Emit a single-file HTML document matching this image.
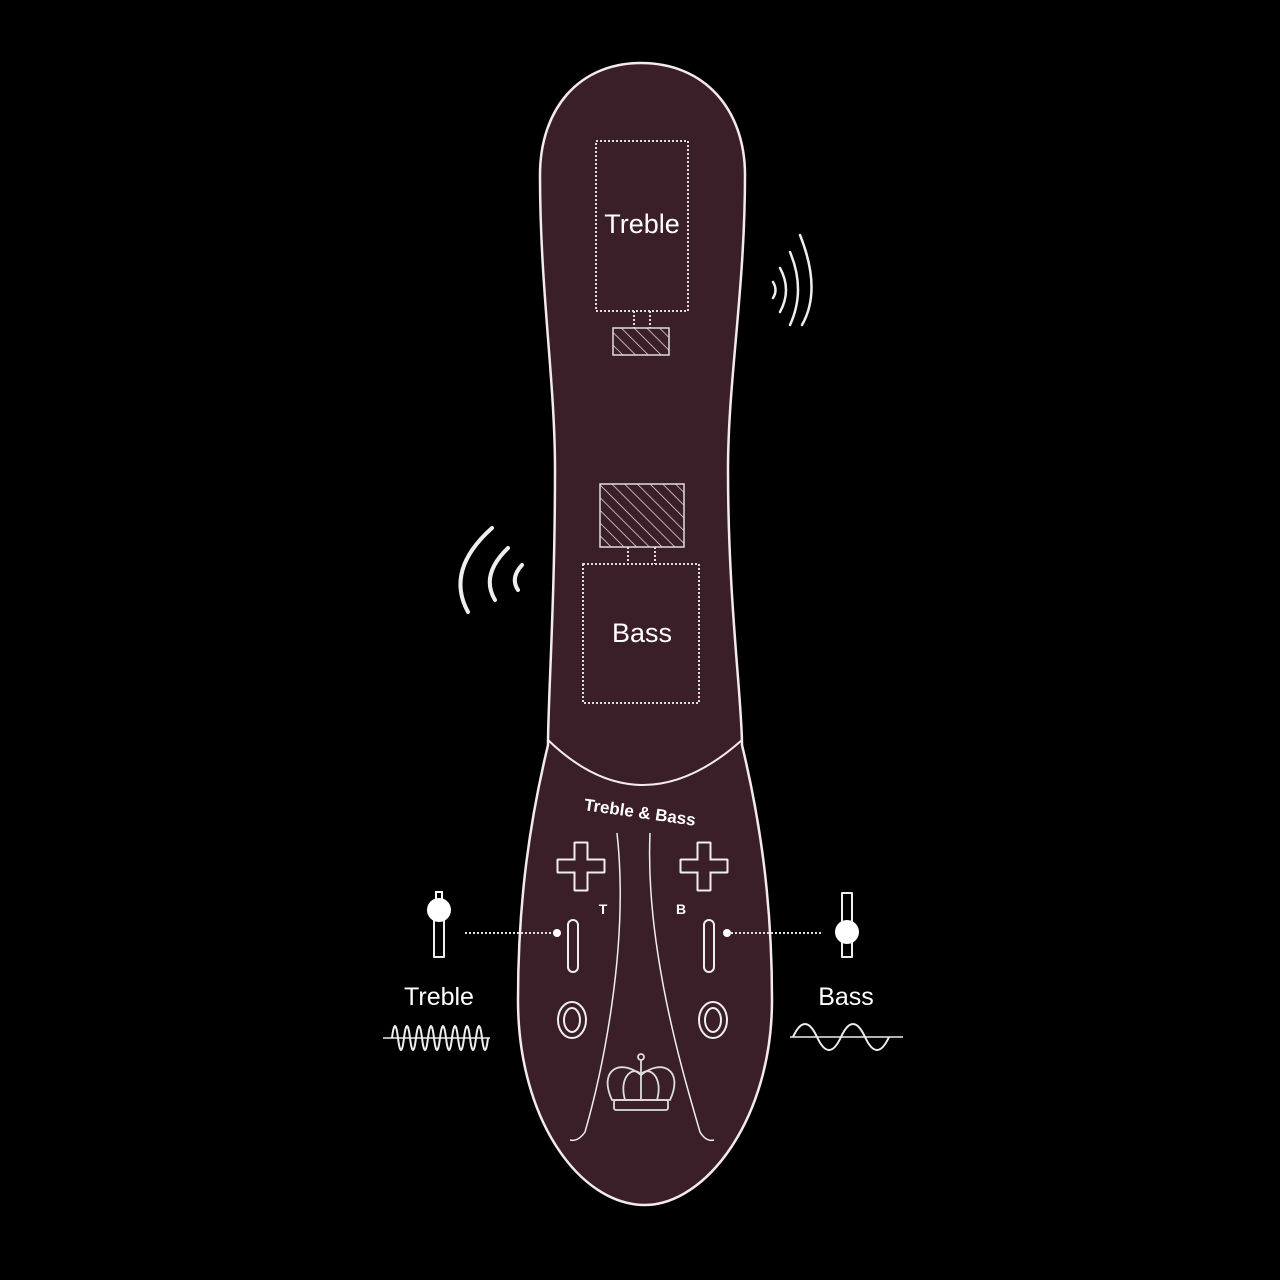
<!DOCTYPE html>
<html><head><meta charset="utf-8"><style>
html,body{margin:0;padding:0;background:#000;}
svg{display:block}
text{font-family:"Liberation Sans",sans-serif;fill:#fff}
</style></head><body>
<svg width="1280" height="1280" viewBox="0 0 1280 1280" xmlns="http://www.w3.org/2000/svg">
<defs>
<pattern id="h" width="9" height="9" patternUnits="userSpaceOnUse" patternTransform="rotate(-45)">
<rect width="9" height="9" fill="#3b1f28"/><line x1="0" y1="0" x2="0" y2="9" stroke="#e8dde0" stroke-width="1.5"/>
</pattern>
</defs>
<rect width="1280" height="1280" fill="#000"/>
<path d="M641,63 C705,63 745,110 745,175 C745,290 728,380 728,470 C728,600 742,700 742,745 C760,820 772,900 772,1000 C772,1120 705,1205 645,1205 C580,1205 518,1120 518,1000 C518,900 530,820 548,745 C548,700 555,600 555,470 C555,380 540,290 540,175 C540,110 578,63 641,63 Z" fill="#3b1f28" stroke="#f2eaec" stroke-width="2.5"/>
<path d="M548,740 Q641,830 742,740" fill="none" stroke="#f2eaec" stroke-width="2"/>
<g fill="none" stroke="#ddd" stroke-width="2" stroke-dasharray="2,2">
<rect x="596" y="141" width="92" height="170"/>
<rect x="583" y="564" width="116" height="139"/>
<line x1="634" y1="311" x2="634" y2="328"/><line x1="650" y1="311" x2="650" y2="328"/>
<line x1="628" y1="547" x2="628" y2="564"/><line x1="655" y1="547" x2="655" y2="564"/>
<line x1="465" y1="933" x2="557" y2="933"/><line x1="727" y1="933" x2="822" y2="933"/>
</g>
<rect x="613" y="328" width="56" height="27" fill="url(#h)" stroke="#ddd" stroke-width="1.5"/>
<rect x="600" y="484" width="84" height="63" fill="url(#h)" stroke="#ddd" stroke-width="1.5"/>
<text x="642" y="233" font-size="27" text-anchor="middle">Treble</text>
<text x="642" y="642" font-size="27" text-anchor="middle">Bass</text>
<g fill="none" stroke="#eee" stroke-width="2.5" stroke-linecap="round">
<path d="M773,282 Q778,290 773,298"/>
<path d="M780,268 Q792,290 780,312"/>
<path d="M790,252 Q806,290 790,325"/>
<path d="M800,235 Q822,290 802,325"/>
<path d="M492,528 Q445,570 468,612" stroke-width="4"/>
<path d="M508,548 Q480,575 495,600" stroke-width="4"/>
<path d="M522,565 Q510,578 518,590" stroke-width="4"/>
</g>
<text x="640" y="818" font-size="17" font-weight="bold" text-anchor="middle" transform="rotate(8 640 812)">Treble &amp; Bass</text>
<g fill="none" stroke="#eee" stroke-width="2" stroke-linejoin="round">
<path d="M575,843 h12 v17 h17 v12 h-17 v18 h-12 v-18 h-17 v-12 h17 z" stroke-linejoin="round" stroke-width="3" stroke="#eee"/>
<path d="M576,844 h10 v17 h17 v10 h-17 v18 h-10 v-18 h-17 v-10 h17 z" stroke="#3b1f28" stroke-width="1"/>
<path d="M698,843 h12 v17 h17 v12 h-17 v18 h-12 v-18 h-17 v-12 h17 z" stroke-linejoin="round" stroke-width="3"/>
<path d="M699,844 h10 v17 h17 v10 h-17 v18 h-10 v-18 h-17 v-10 h17 z" stroke="#3b1f28" stroke-width="1"/>
<rect x="568" y="920" width="10" height="52" rx="5"/>
<rect x="704" y="920" width="10" height="52" rx="5"/>
<ellipse cx="572" cy="1020" rx="14" ry="18"/><ellipse cx="572" cy="1020" rx="8" ry="12"/>
<ellipse cx="713" cy="1020" rx="14" ry="18"/><ellipse cx="713" cy="1020" rx="8" ry="12"/>
<path d="M617,833 C630,950 600,1080 585,1132 Q578,1142 570,1140" stroke-width="1.5"/>
<path d="M650,833 C645,950 685,1080 700,1132 Q706,1142 714,1140" stroke-width="1.5"/>
<rect x="434" y="920" width="10" height="37"/>
<rect x="842" y="893" width="10" height="64"/>
</g>
<text x="603" y="914" font-size="14" font-weight="bold" text-anchor="middle">T</text>
<text x="681" y="914" font-size="14" font-weight="bold" text-anchor="middle">B</text>
<circle cx="557" cy="933" r="4" fill="#fff"/><circle cx="727" cy="933" r="4" fill="#fff"/>
<circle cx="439" cy="910" r="12" fill="#fff"/><rect x="436" y="892" width="6" height="8" fill="none" stroke="#fff" stroke-width="2"/>
<circle cx="847" cy="932" r="12" fill="#fff"/>
<text x="439" y="1005" font-size="25" text-anchor="middle">Treble</text>
<text x="846" y="1005" font-size="25" text-anchor="middle">Bass</text>
<g fill="none" stroke="#eee" stroke-width="1.5">
<line x1="383" y1="1038" x2="490" y2="1038"/>
<path d="M392,1038 q3,-24 6,0 t6,0 t6,0 t6,0 t6,0 t6,0 t6,0 t6,0 t6,0 t6,0 t6,0 t6,0 t6,0 t6,0 t6,0 t6,0" stroke-width="2"/>
<line x1="790" y1="1037" x2="903" y2="1037"/>
<path d="M793,1037 q12,-26 24,0 t24,0 t24,0 t24,0" stroke-width="2"/>
</g>
<g fill="none" stroke="#ddd" stroke-width="1.8">
<path d="M612,1100 C598,1070 620,1058 641,1075 C662,1058 684,1070 670,1100 Z"/>
<path d="M625,1100 C618,1075 635,1065 641,1075 C647,1065 664,1075 657,1100"/>
<line x1="641" y1="1060" x2="641" y2="1100"/>
<circle cx="641" cy="1057" r="3"/>
<rect x="614" y="1100" width="54" height="10" rx="2"/>
</g>
</svg>
</body></html>
